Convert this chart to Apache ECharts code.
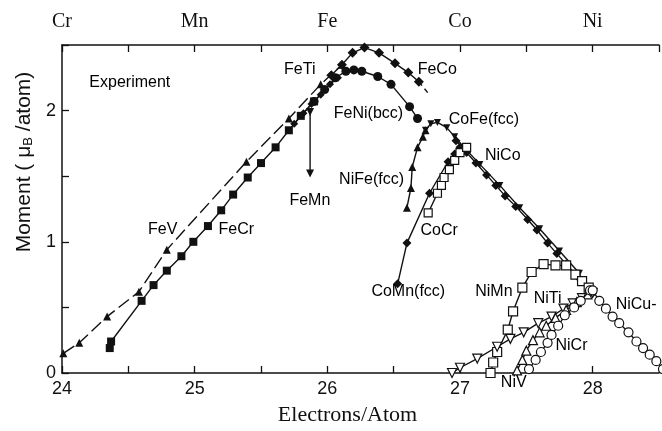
<!DOCTYPE html>
<html>
<head>
<meta charset="utf-8">
<script src="https://cdn.jsdelivr.net/npm/echarts@6/dist/echarts.min.js"></script>
<style>
  html, body { margin: 0; padding: 0; background: #fff; }
  #chart { width: 662px; height: 431px; }
</style>
</head>
<body>
<div id="chart"></div>
<script>
// element names on the top axis (24..28)
var topLabels = ['Cr', 'Mn', 'Fe', 'Co', 'Ni'];

// series: [electrons/atom, moment]
var feV = [[24.01,0.15],[24.13,0.23],[24.34,0.43],[24.58,0.62],[24.79,0.94],[25.39,1.61],[25.71,1.94],[25.95,2.2],[26.11,2.35]];
var feCr = [[24.36,0.19],[24.37,0.24],[24.6,0.55],[24.69,0.67],[24.79,0.78],[24.9,0.89],[24.99,1.0],[25.1,1.12],[25.2,1.24],[25.29,1.36],[25.4,1.49],[25.5,1.6],[25.61,1.72],[25.71,1.85],[25.8,1.96],[25.9,2.07]];
var feNi = [[25.9,2.07],[25.98,2.16],[26.06,2.25],[26.14,2.3],[26.2,2.31],[26.26,2.3],[26.38,2.26],[26.48,2.2],[26.62,2.03],[26.68,1.94]];
var feTi = [[25.75,1.9],[25.82,1.98],[25.88,2.05],[25.95,2.12],[26.02,2.2],[26.08,2.25]];
var feCo = [[26.03,2.27],[26.11,2.35],[26.19,2.44],[26.28,2.48],[26.39,2.44],[26.51,2.36],[26.61,2.29],[26.69,2.22]];
var feCoTail = [[26.69,2.22],[26.77,2.12]];
var feMn = [[25.87,1.99],[25.87,1.52]];
var niFe = [[26.6,1.26],[26.63,1.41],[26.64,1.57],[26.68,1.72],[26.72,1.8],[26.74,1.85]];
var coFe = [[26.74,1.85],[26.78,1.9],[26.83,1.91],[26.9,1.87],[26.96,1.8],[27.04,1.71],[27.15,1.59],[27.3,1.43],[27.45,1.26],[27.6,1.1],[27.75,0.93],[27.9,0.76]];
var niCo = [[26.97,1.77],[27.05,1.68],[27.12,1.6],[27.2,1.51],[27.27,1.43],[27.34,1.35],[27.42,1.27],[27.51,1.17],[27.58,1.09],[27.66,0.99],[27.73,0.91],[27.8,0.83],[27.9,0.72],[28.0,0.61]];
var coMn = [[26.53,0.68],[26.6,0.99],[26.77,1.37],[26.91,1.61],[26.96,1.67],[27.0,1.72]];
var coCr = [[26.76,1.22],[26.83,1.37],[26.86,1.43],[26.88,1.49],[26.92,1.55],[26.96,1.62],[27.0,1.68],[27.05,1.72]];
var niMn = [[27.23,0.0],[27.25,0.08],[27.28,0.16],[27.36,0.33],[27.4,0.47],[27.47,0.65],[27.54,0.77],[27.63,0.83],[27.72,0.82],[27.8,0.82],[27.87,0.75],[27.92,0.7],[27.97,0.65]];
var niTi = [[26.94,0.0],[27.0,0.04],[27.13,0.11],[27.28,0.2],[27.38,0.26],[27.48,0.31],[27.59,0.38],[27.69,0.43],[27.78,0.49],[27.85,0.53],[27.92,0.57],[28.0,0.61]];
var niV = [[27.43,0.02],[27.47,0.1],[27.5,0.17],[27.55,0.25],[27.6,0.31],[27.65,0.36],[27.72,0.42],[27.8,0.48],[27.88,0.54],[27.96,0.6]];
var niCr = [[27.52,0.03],[27.57,0.1],[27.61,0.16],[27.66,0.23],[27.69,0.29],[27.74,0.36],[27.79,0.44],[27.86,0.5],[27.91,0.55],[27.98,0.63]];
var niCu = [[28.0,0.63],[28.05,0.55],[28.1,0.49],[28.15,0.43],[28.2,0.38],[28.27,0.31],[28.33,0.24],[28.38,0.19],[28.43,0.14],[28.48,0.09],[28.53,0.03]];

// text annotations: [x, y, text]
var notes = [
  [24.515, 2.206, 'Experiment'],
  [25.796, 2.312, 'FeTi'],
  [26.832, 2.312, 'FeCo'],
  [26.314, 1.973, 'FeNi(bcc)'],
  [25.872, 1.31, 'FeMn'],
  [26.337, 1.468, 'NiFe(fcc)'],
  [27.184, 1.928, 'CoFe(fcc)'],
  [27.326, 1.657, 'NiCo'],
  [26.847, 1.084, 'CoCr'],
  [26.614, 0.617, 'CoMn(fcc)'],
  [27.259, 0.617, 'NiMn'],
  [27.664, 0.565, 'NiTi'],
  [28.331, 0.52, 'NiCu-'],
  [27.844, 0.203, 'NiCr'],
  [27.409, -0.075, 'NiV'],
  [24.763, 1.092, 'FeV'],
  [25.318, 1.092, 'FeCr']
];

var ink = '#111';
var sans = 'Liberation Sans, Arial, sans-serif';
var serif = 'Liberation Serif, Times New Roman, serif';

function line(name, data, symbol, filled, opts) {
  opts = opts || {};
  return {
    name: name,
    type: 'line',
    data: data,
    symbol: symbol,
    symbolSize: opts.size || 8,
    symbolRotate: opts.rotate || 0,
    showSymbol: symbol !== 'none',
    clip: false,
    silent: true,
    lineStyle: { color: ink, width: 1.4, type: opts.dash || 'solid' },
    itemStyle: { color: filled ? ink : '#fff', borderColor: ink, borderWidth: filled ? 0 : 1.2 },
    z: opts.z || 2
  };
}

var chart = echarts.init(document.getElementById('chart'));
chart.setOption({
  animation: false,
  backgroundColor: '#fff',
  grid: { left: 62, right: 0, top: 45, bottom: 54 },
  xAxis: [{
    type: 'value', min: 24, max: 28.5, interval: 0.5, position: 'bottom',
    axisLine: { lineStyle: { color: ink, width: 1.5 } },
    axisTick: { inside: true, length: 7, lineStyle: { color: ink, width: 1.3 } },
    splitLine: { show: false },
    axisLabel: { color: ink, fontSize: 18, fontFamily: sans, margin: 7,
      formatter: function (v) { return Number.isInteger(v) ? String(v) : ''; } },
    name: 'Electrons/Atom', nameLocation: 'middle', nameGap: 31,
    nameTextStyle: { color: ink, fontSize: 22, fontFamily: serif, padding: [0, 26, 0, 0] }
  }, {
    type: 'value', min: 24, max: 28.5, interval: 0.5, position: 'top',
    axisLine: { lineStyle: { color: ink, width: 1.5 } },
    axisTick: { inside: true, length: 7, lineStyle: { color: ink, width: 1.3 } },
    splitLine: { show: false },
    axisLabel: { color: ink, fontSize: 20, fontFamily: serif, margin: 13,
      formatter: function (v) { return Number.isInteger(v) ? (topLabels[v - 24] || '') : ''; } }
  }],
  yAxis: {
    type: 'value', min: 0, max: 2.5, interval: 0.5,
    axisLine: { show: true, lineStyle: { color: ink, width: 1.5 } },
    axisTick: { show: true, inside: true, length: 7, lineStyle: { color: ink, width: 1.3 } },
    splitLine: { show: false },
    axisLabel: { color: ink, fontSize: 18, fontFamily: sans, margin: 6,
      formatter: function (v) { return Number.isInteger(v) ? String(v) : ''; } },
    name: 'Moment ( \u03bc{s|B} /atom)', nameLocation: 'middle', nameGap: 27,
    nameTextStyle: { color: ink, fontSize: 21, fontFamily: sans, padding: [0, 0, 0, 94],
      rich: { s: { fontSize: 13, fontFamily: sans, color: ink, verticalAlign: 'bottom', padding: [9, 0, 0, 0] } } }
  },
  series: [
    line('FeV', feV, 'triangle', true, { dash: [13, 5] }),
    line('FeCr', feCr, 'rect', true),
    line('FeNi(bcc)', feNi, 'circle', true, { size: 9 }),
    line('FeTi', feTi, 'diamond', true, { size: 8 }),
    line('FeCo', feCo, 'diamond', true, { size: 10 }),
    line('FeCoTail', feCoTail, 'none', true, { dash: [5, 4] }),
    line('FeMn', feMn, 'triangle', true, { rotate: 180 }),
    line('NiFe(fcc)', niFe, 'triangle', true),
    line('CoFe(fcc)', coFe, 'triangle', true, { rotate: 180, size: 7 }),
    line('NiCo', niCo, 'diamond', true, { size: 9 }),
    line('CoMn(fcc)', coMn, 'diamond', true, { size: 9 }),
    line('CoCr', coCr, 'rect', false, { z: 3 }),
    line('NiMn', niMn, 'rect', false, { size: 9, z: 3 }),
    line('NiTi', niTi, 'triangle', false, { rotate: 180, size: 9, z: 3 }),
    line('NiV', niV, 'triangle', false, { size: 9, z: 3 }),
    line('NiCr', niCr, 'circle', false, { size: 9, z: 4 }),
    line('NiCu', niCu, 'circle', false, { size: 9, z: 4 }),
    {
      type: 'scatter', data: notes, symbolSize: 1, clip: false, silent: true, z: 10,
      itemStyle: { color: 'transparent' },
      label: { show: true, position: [0, 0], align: 'center', verticalAlign: 'middle',
        color: '#000', fontSize: 16, fontFamily: sans, opacity: 1,
        formatter: function (p) { return p.data[2]; } }
    }
  ]
});
</script>
</body>
</html>
